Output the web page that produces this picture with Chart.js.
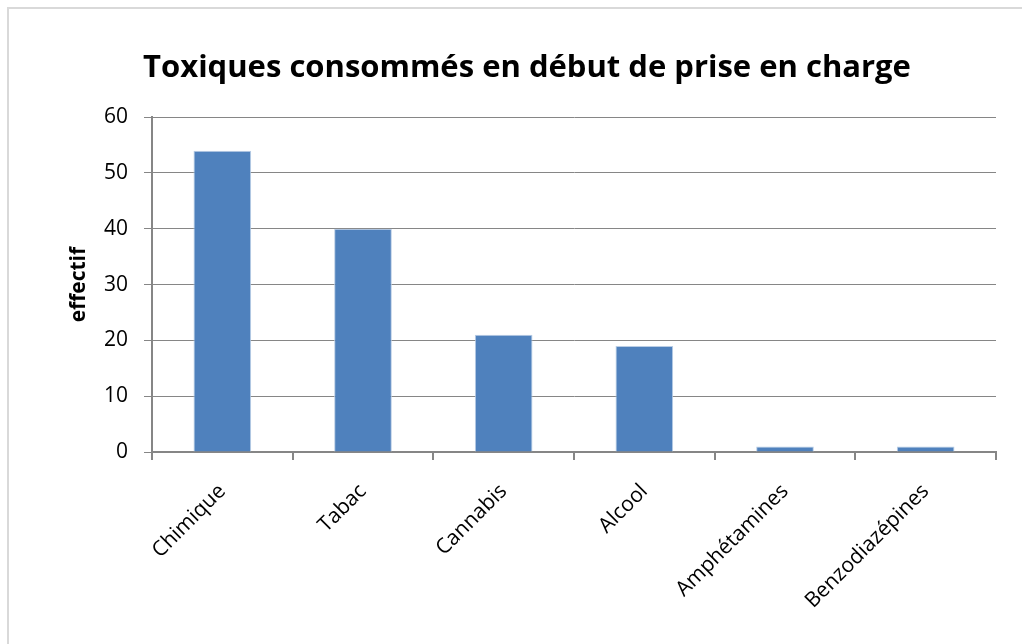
<!DOCTYPE html>
<html>
<head>
<meta charset="utf-8">
<script src="https://cdn.jsdelivr.net/npm/chart.js@4"></script>
<style>
  body { margin: 0; background: #fff; overflow: hidden; }
  #cadre { position: absolute; left: 7px; top: 7px; width: 1040px; height: 660px; border: 2px solid #d9d9d9; }
  #wrap { position: absolute; left: 0; top: 0; width: 1022px; height: 644px; }
</style>
</head>
<body>
<div id="cadre"></div>
<div id="wrap"><canvas id="mychart"></canvas></div>
<script>
'use strict'

// catégories et valeurs
let categories = ['Chimique', 'Tabac', 'Cannabis', 'Alcool', 'Amphétamines', 'Benzodiazépines'];
let effectifs = [54, 40, 21, 19, 1, 1];
let yTicks = [0, 10, 20, 30, 40, 50, 60];

let police = "'Open Sans', sans-serif";
let gris = '#868686';

let ctx = document.getElementById('mychart');

let myChart = new Chart(ctx, {
  type: 'bar',
  data: {
    labels: categories,
    datasets: [{
      label: 'effectif',
      data: effectifs,
      backgroundColor: '#4f81bd',
      borderColor: '#b9cde5',
      borderWidth: 1,
      categoryPercentage: 1,
      barPercentage: 0.41,
    }],
  },
  options: {
    responsive: true,
    maintainAspectRatio: false,
    animation: false,
    // marge gauche pour centrer le titre comme dans l'original
    layout: { padding: { top: 0, right: 26, left: 58, bottom: 0 } },
    plugins: {
      legend: { display: false },
      tooltip: { enabled: false },
      title: {
        display: true,
        text: 'Toxiques consommés en début de prise en charge',
        color: '#000',
        font: { family: police, size: 31, weight: 'bold' },
        padding: { top: 50, bottom: 30 },
      },
    },
    scales: {
      x: {
        grid: { display: true, drawOnChartArea: false, drawTicks: true, tickLength: 8, color: gris, lineWidth: 2 },
        border: { display: true, color: gris, width: 2 },
        ticks: {
          color: '#000',
          font: { family: police, size: 21 },
          maxRotation: 45,
          minRotation: 45,
          padding: 19,
        },
        afterFit: (scale) => { scale.height = 644 - 452; },
      },
      y: {
        min: 0,
        max: 60,
        afterBuildTicks: (scale) => { scale.ticks = yTicks.map(v => ({ value: v })); },
        grid: { color: gris, lineWidth: 1, tickLength: 8 },
        border: { display: true, color: gris, width: 2 },
        ticks: {
          color: '#000',
          font: { family: police, size: 21 },
          padding: 16,
        },
        title: {
          display: true,
          text: 'effectif',
          color: '#000',
          font: { family: police, size: 21, weight: 'bold' },
          padding: { top: 8, bottom: 0 },
        },
        afterFit: (scale) => { scale.width = 152 - 58; },
      },
    },
  },
});
</script>
</body>
</html>
